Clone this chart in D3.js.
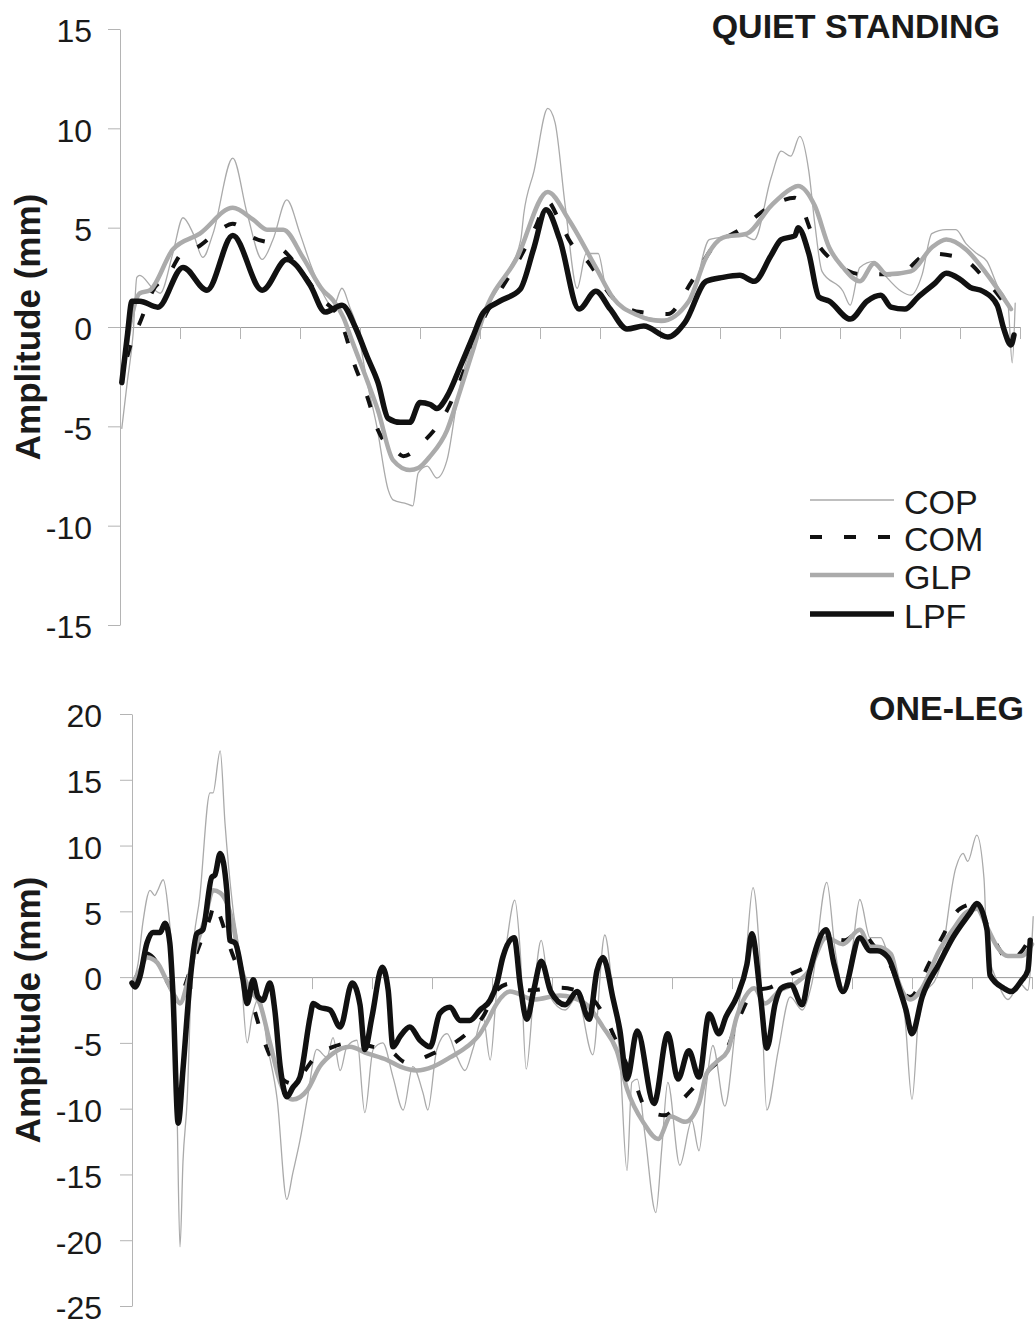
<!DOCTYPE html>
<html>
<head>
<meta charset="utf-8">
<script src="https://cdn.jsdelivr.net/npm/d3@7"></script>
<style>
  body { margin: 0; background: #fff; }
  svg { display: block; font-family: "Liberation Sans", Arial, sans-serif; }
</style>
</head>
<body>
<script>
// time in x-tick units (15 ticks), amplitude in mm
const seriesNames = ['COP', 'COM', 'GLP', 'LPF'];
const topTitle = 'QUIET STANDING';
const botTitle = 'ONE-LEG';
const yLabel = 'Amplitude (mm)';
const topYTicks = [-15, -10, -5, 0, 5, 10, 15];
const botYTicks = [-25, -20, -15, -10, -5, 0, 5, 10, 15, 20];

const topCOP = [[0.03,-5.1],[0.12,-2.8],[0.22,-0.3],[0.28,2.5],[0.33,2.6],[0.53,2.0],[0.67,1.7],[0.88,3.7],[1.05,5.5],[1.22,4.7],[1.38,3.5],[1.55,4.7],[1.88,8.5],[2.12,5.7],[2.37,3.4],[2.55,4.4],[2.78,6.4],[3.0,4.7],[3.17,3.2],[3.38,1.7],[3.55,1.0],[3.7,1.95],[3.83,1.0],[3.95,0],[4.12,-2.8],[4.28,-5.0],[4.47,-8.2],[4.55,-8.7],[4.78,-8.9],[4.88,-9.0],[4.97,-7.35],[5.12,-7.0],[5.28,-7.6],[5.45,-6.7],[5.62,-3.7],[5.78,-1.65],[5.95,-0.65],[6.05,0.35],[6.5,3.0],[6.68,4.4],[6.73,5.7],[6.9,7.85],[7.13,11.0],[7.25,10.3],[7.42,6.1],[7.62,1.95],[7.77,3.7],[7.97,3.7],[8.1,1.95],[8.28,1.26],[8.62,0.6],[9.08,0.4],[9.53,1.45],[9.82,4.4],[9.98,4.5],[10.33,4.7],[10.57,4.4],[10.85,7.5],[11.02,8.85],[11.18,8.6],[11.33,9.6],[11.48,7.85],[11.58,5.2],[11.7,2.8],[12.05,1.8],[12.17,1.1],[12.33,3.0],[12.57,3.3],[12.78,2.5],[13.02,1.8],[13.18,1.6],[13.37,2.65],[13.53,4.7],[13.77,4.9],[13.93,4.9],[14.1,4.2],[14.28,3.7],[14.45,3.3],[14.62,2.1],[14.8,1.1],[14.87,-1.8],[14.92,1.2]];
const topCOM = [[0.12,-1.5],[0.22,-0.5],[0.3,0.0],[0.58,2.0],[0.78,2.5],[1.03,3.7],[1.28,4.0],[1.67,4.9],[1.88,5.2],[2.22,4.5],[2.67,4.0],[3.0,2.9],[3.33,1.5],[3.67,0.35],[3.75,-0.3],[3.88,-1.65],[4.12,-3.5],[4.3,-5.2],[4.62,-6.3],[4.72,-6.5],[5.05,-5.8],[5.45,-4.2],[5.67,-2.7],[5.88,-1.0],[6.05,0.35],[6.33,1.8],[6.67,3.5],[6.92,5.0],[7.13,6.3],[7.3,5.5],[7.48,4.4],[7.82,3.2],[8.22,1.45],[8.68,0.75],[9.13,0.65],[9.53,2.3],[9.88,4.0],[10.33,4.9],[10.8,6.0],[11.25,6.5],[11.58,4.4],[11.93,3.2],[12.38,2.65],[12.97,2.65],[13.48,3.7],[14.0,3.5],[14.45,2.3],[14.85,0.75]];
const topGLP = [[0.05,-2.2],[0.2,0.6],[0.33,1.7],[0.5,1.85],[0.88,3.9],[1.33,4.7],[1.88,6.0],[2.22,5.4],[2.45,4.9],[2.72,4.9],[3.05,3.5],[3.38,1.85],[3.55,1.35],[3.72,0.5],[3.88,-0.8],[4.12,-2.7],[4.3,-4.2],[4.55,-6.7],[4.83,-7.2],[4.97,-7.1],[5.17,-6.5],[5.45,-5.2],[5.67,-3.2],[5.88,-1.2],[6.05,0.5],[6.62,3.5],[7.13,6.8],[7.48,5.4],[7.93,3.0],[8.22,1.45],[8.62,0.6],[9.02,0.3],[9.48,1.3],[9.77,3.5],[10.05,4.5],[10.45,4.7],[10.85,6.1],[11.18,6.95],[11.3,7.1],[11.58,6.1],[11.82,4.0],[12.05,3.0],[12.33,2.3],[12.57,3.2],[12.78,2.65],[13.18,2.8],[13.53,4.0],[13.77,4.4],[14.1,3.9],[14.45,2.65],[14.85,0.9]];
const topLPF = [[0.03,-2.8],[0.12,-0.5],[0.2,1.3],[0.33,1.3],[0.63,1.0],[1.05,3.0],[1.45,1.85],[1.88,4.6],[2.37,1.85],[2.78,3.4],[3.17,2.1],[3.42,0.75],[3.7,1.1],[3.92,0.0],[4.12,-1.5],[4.3,-2.8],[4.47,-4.6],[4.67,-4.8],[4.83,-4.8],[5.0,-3.8],[5.17,-3.9],[5.28,-4.1],[5.45,-3.5],[5.67,-2.0],[5.88,-0.5],[6.05,0.7],[6.33,1.3],[6.67,1.9],[6.9,4.0],[7.1,5.9],[7.33,4.4],[7.65,0.9],[7.93,1.8],[8.17,0.9],[8.45,-0.1],[8.73,0.05],[9.13,-0.5],[9.42,0.25],[9.77,2.3],[10.05,2.5],[10.33,2.6],[10.57,2.3],[10.85,3.6],[11.02,4.4],[11.25,4.6],[11.3,5.0],[11.48,3.7],[11.65,1.5],[11.82,1.3],[12.17,0.4],[12.45,1.3],[12.68,1.6],[12.85,1.0],[13.08,0.9],[13.3,1.5],[13.58,2.2],[13.77,2.7],[14.0,2.4],[14.17,2.0],[14.38,1.8],[14.62,1.1],[14.73,-0.1],[14.85,-0.9],[14.9,-0.4]];

const botCOP = [[0,-0.45],[0.1,1.0],[0.18,4.1],[0.3,6.6],[0.38,6.2],[0.43,6.6],[0.52,7.4],[0.6,5.3],[0.68,0.5],[0.75,-10],[0.8,-20.5],[0.85,-14],[0.92,-9.3],[1.0,1.1],[1.13,6.1],[1.3,14.0],[1.35,14.0],[1.47,17.2],[1.55,11.7],[1.68,5.3],[1.8,1.5],[1.92,-5.0],[2.0,-3.0],[2.13,-1.5],[2.25,-5.0],[2.42,-9.3],[2.58,-16.9],[2.68,-14.9],[2.8,-12.4],[2.92,-9.3],[3.08,-5.5],[3.25,-6.1],[3.35,-4.6],[3.47,-7.1],[3.58,-5.3],[3.75,-4.8],[3.88,-10.3],[4.02,-5.5],[4.18,-5.0],[4.35,-7.6],[4.52,-10.1],[4.68,-6.8],[4.85,-8.8],[4.93,-10.1],[5.08,-5.5],[5.25,-4.3],[5.42,-6.1],[5.55,-7.1],[5.68,-5.5],[5.85,-3.0],[5.97,-6.3],[6.08,-1.0],[6.22,2.0],[6.38,5.85],[6.47,2.0],[6.57,-7.0],[6.7,-1.0],[6.82,2.8],[6.97,-1.5],[7.22,-2.5],[7.42,-1.5],[7.68,-5.9],[7.88,3.2],[8.02,-1.5],[8.13,-6.0],[8.25,-14.7],[8.33,-8.0],[8.42,-7.75],[8.55,-12.0],[8.73,-17.9],[8.83,-13.0],[8.93,-8.0],[9.13,-14.3],[9.33,-10.9],[9.45,-13.2],[9.57,-8.3],[9.68,-5.2],[9.88,-9.8],[10.08,-3.0],[10.22,1.0],[10.35,6.8],[10.47,1.0],[10.58,-10.1],[10.77,-5.6],[10.97,-1.5],[11.17,-2.5],[11.33,-0.5],[11.58,7.2],[11.72,2.0],[11.85,-0.8],[12.0,2.0],[12.13,5.9],[12.3,3.0],[12.48,3.0],[12.58,2.0],[12.77,-0.5],[12.88,-3.0],[13.0,-9.3],[13.13,-2.0],[13.45,0.5],[13.73,8.3],[13.85,9.4],[13.93,8.8],[14.08,10.8],[14.2,7.5],[14.25,2.3],[14.42,-0.3],[14.6,-1.7],[14.8,-0.5],[14.93,-1.0],[15.02,4.6]];
const botCOM = [[0,-0.5],[0.13,0.5],[0.25,1.8],[0.35,1.5],[0.52,0.2],[0.67,-1.0],[0.75,-1.5],[0.83,-1.2],[0.97,0.5],[1.13,2.5],[1.3,4.5],[1.38,5.6],[1.47,4.6],[1.63,2.3],[1.8,0.3],[1.97,-1.5],[2.18,-4.6],[2.3,-6.0],[2.52,-7.8],[2.68,-8.1],[2.8,-7.6],[3.05,-6.1],[3.35,-5.3],[3.68,-5.0],[4.02,-5.3],[4.3,-5.6],[4.58,-6.5],[5.02,-5.8],[5.3,-5.2],[5.58,-4.3],[5.85,-3.0],[6.08,-1.0],[6.3,-0.5],[6.63,-1.0],[7.13,-0.8],[7.63,-1.5],[7.88,-3.0],[8.13,-5.5],[8.38,-8.0],[8.58,-10.1],[8.88,-10.5],[9.13,-9.5],[9.38,-8.3],[9.63,-7.0],[9.88,-5.8],[10.13,-3.0],[10.38,-1.0],[10.63,-0.8],[10.97,0.2],[11.28,1.0],[11.57,3.0],[11.88,2.8],[12.13,3.5],[12.38,2.3],[12.63,1.0],[12.8,-0.8],[12.97,-1.5],[13.28,1.0],[13.5,3.0],[13.8,5.2],[14.08,5.6],[14.25,4.0],[14.47,2.0],[14.6,1.2],[14.8,1.8],[14.97,3.0]];
const botGLP = [[0,-0.5],[0.13,0.5],[0.25,1.5],[0.42,1.1],[0.55,0.0],[0.72,-1.5],[0.8,-2.0],[0.92,-0.5],[1.05,2.0],[1.22,4.5],[1.35,6.6],[1.47,6.4],[1.68,4.1],[1.8,1.0],[1.97,-1.0],[2.13,-2.0],[2.3,-5.0],[2.47,-8.0],[2.68,-9.3],[2.92,-8.6],[3.13,-6.8],[3.35,-5.8],[3.63,-5.3],[3.92,-5.8],[4.25,-6.3],[4.47,-6.8],[4.75,-7.1],[5.02,-6.8],[5.3,-6.1],[5.58,-5.3],[5.8,-4.3],[5.93,-3.3],[6.08,-2.0],[6.3,-1.1],[6.7,-1.7],[7.13,-1.4],[7.55,-2.0],[7.85,-3.8],[8.08,-5.6],[8.25,-8.5],[8.53,-11.1],[8.77,-12.3],[8.98,-10.6],[9.22,-11.0],[9.45,-9.6],[9.57,-7.4],[9.73,-6.5],[9.93,-5.6],[10.08,-3.0],[10.22,-1.5],[10.37,-0.85],[10.55,-2.0],[10.8,-1.0],[11.05,-0.5],[11.28,0.45],[11.57,3.0],[11.85,2.5],[12.13,3.6],[12.3,2.3],[12.42,2.3],[12.65,1.75],[12.77,-0.3],[12.98,-1.7],[13.17,-0.8],[13.45,2.0],[13.68,3.6],[13.9,4.9],[14.08,5.2],[14.25,3.8],[14.42,2.3],[14.6,1.6],[14.82,1.6],[15.0,2.5]];
const botLPF = [[0,-0.45],[0.05,-0.75],[0.13,0],[0.25,2.6],[0.35,3.4],[0.47,3.4],[0.55,4.1],[0.63,2.6],[0.68,-1.0],[0.77,-11.1],[0.85,-7.0],[0.97,-0.2],[1.08,3.3],[1.18,3.6],[1.33,7.6],[1.38,7.75],[1.47,9.4],[1.58,6.6],[1.63,2.8],[1.72,2.6],[1.85,-0.2],[1.92,-2.0],[2.02,-0.2],[2.1,-1.5],[2.18,-1.75],[2.3,-0.45],[2.38,-2.5],[2.47,-6.8],[2.58,-9.1],[2.68,-8.4],[2.8,-7.6],[2.97,-3.0],[3.02,-2.0],[3.13,-2.3],[3.3,-2.5],[3.47,-3.8],[3.67,-0.45],[3.8,-2.1],[3.88,-5.5],[4.0,-3.0],[4.17,0.75],[4.27,-1.0],[4.35,-5.3],[4.47,-4.5],[4.63,-3.8],[4.8,-4.8],[4.97,-5.3],[5.13,-2.75],[5.3,-2.3],[5.47,-3.3],[5.63,-3.3],[5.8,-2.5],[5.97,-1.75],[6.08,-0.5],[6.18,1.5],[6.37,3.0],[6.47,-0.6],[6.58,-3.2],[6.7,-0.9],[6.82,1.2],[6.98,-1.1],[7.22,-2.1],[7.42,-1.1],[7.62,-3.2],[7.75,0.5],[7.85,1.5],[8.02,-1.7],[8.13,-4.0],[8.25,-7.75],[8.42,-4.1],[8.7,-9.6],[8.93,-4.3],[9.1,-7.75],[9.28,-5.6],[9.45,-7.6],[9.62,-2.8],[9.78,-4.3],[9.9,-3.0],[10.08,-1.5],[10.25,1.0],[10.33,3.3],[10.48,-1.7],[10.58,-5.4],[10.72,-2.0],[10.82,-0.85],[10.98,-0.6],[11.17,-2.1],[11.28,0.15],[11.57,3.6],[11.7,1.0],[11.85,-1.1],[12.13,3.0],[12.3,2.0],[12.42,2.0],[12.6,1.5],[12.77,-0.6],[12.9,-2.5],[13.0,-4.3],[13.17,-1.5],[13.45,1.0],[13.68,3.0],[13.97,4.9],[14.08,5.6],[14.25,3.6],[14.3,0.15],[14.53,-0.85],[14.65,-1.1],[14.82,-0.3],[14.93,0.5],[14.97,2.8]];

const styles = {
  COP: { stroke: '#aaaaaa', width: 1.3, dash: null },
  COM: { stroke: '#111111', width: 4, dash: '12,22' },
  GLP: { stroke: '#ababab', width: 4.5, dash: null },
  LPF: { stroke: '#111111', width: 5.5, dash: null }
};

const W = 1035, H = 1326;
const svg = d3.create('svg').attr('width', W).attr('height', H).attr('viewBox', [0, 0, W, H]);

const panels = [
  { title: topTitle, titleX: 1000, titleY: 38, left: 120, right: 1020, top: 29, bottom: 625,
    domain: [-15, 15], ticks: topYTicks, pad: 16,
    series: { COP: topCOP, COM: topCOM, GLP: topGLP, LPF: topLPF } },
  { title: botTitle, titleX: 1024, titleY: 720, left: 132, right: 1032, top: 714, bottom: 1306,
    domain: [-25, 20], ticks: botYTicks, pad: 18,
    series: { COP: botCOP, COM: botCOM, GLP: botGLP, LPF: botLPF } }
];

panels.forEach(p => {
  const x = d3.scaleLinear().domain([0, 15]).range([p.left, p.right]);
  const y = d3.scaleLinear().domain(p.domain).range([p.bottom, p.top]);

  // y axis, plain hyphen for negatives
  const gy = svg.append('g')
      .attr('transform', `translate(${p.left},0)`)
      .call(d3.axisLeft(y).tickValues(p.ticks).tickSize(12).tickSizeOuter(0)
        .tickPadding(p.pad).tickFormat(d => String(d)));
  gy.select('.domain').attr('stroke', '#b4b4b4');
  gy.selectAll('.tick line').attr('stroke', '#b4b4b4');
  gy.selectAll('.tick text')
      .attr('font-size', 32).attr('fill', '#1a1a1a')
      .attr('font-family', '"Liberation Sans", Arial, sans-serif')
      .attr('dy', '0.4em');

  // x axis on zero line, no labels
  const gx = svg.append('g')
      .attr('transform', `translate(0,${y(0)})`)
      .call(d3.axisBottom(x).ticks(15).tickSize(12).tickSizeOuter(0).tickFormat(''));
  gx.select('.domain').attr('stroke', '#9a9a9a');
  gx.selectAll('.tick line').attr('stroke', '#b4b4b4');
  gx.selectAll('.tick').filter(d => d === 0).remove();

  const line = d3.line()
      .x(d => x(d[0]))
      .y(d => y(d[1]))
      .curve(d3.curveMonotoneX);

  seriesNames.forEach(name => {
    const s = styles[name];
    svg.append('path')
        .datum(p.series[name])
        .attr('fill', 'none')
        .attr('stroke', s.stroke)
        .attr('stroke-width', s.width)
        .attr('stroke-linejoin', 'round')
        .attr('stroke-linecap', name === 'COM' ? 'butt' : 'round')
        .attr('stroke-dasharray', s.dash)
        .attr('d', line);
  });

  svg.append('text')
      .attr('x', p.titleX).attr('y', p.titleY)
      .attr('text-anchor', 'end')
      .attr('font-size', 34).attr('font-weight', 'bold').attr('fill', '#1a1a1a')
      .text(p.title);

  svg.append('text')
      .attr('transform', `translate(40,${(p.top + p.bottom) / 2}) rotate(-90)`)
      .attr('text-anchor', 'middle')
      .attr('font-size', 35).attr('font-weight', 'bold').attr('fill', '#1a1a1a')
      .text(yLabel);
});

// legend (top panel)
const legendY = [500, 537, 575, 614];
const legend = svg.append('g');
seriesNames.forEach((name, i) => {
  const s = styles[name];
  legend.append('line')
      .attr('x1', 810).attr('x2', 894)
      .attr('y1', legendY[i]).attr('y2', legendY[i])
      .attr('stroke', s.stroke).attr('stroke-width', s.width)
      .attr('stroke-dasharray', s.dash);
  legend.append('text')
      .attr('x', 904).attr('y', legendY[i] + 14)
      .attr('font-size', 34).attr('fill', '#1a1a1a')
      .text(name);
});

document.body.append(svg.node());
</script>
</body>
</html>
